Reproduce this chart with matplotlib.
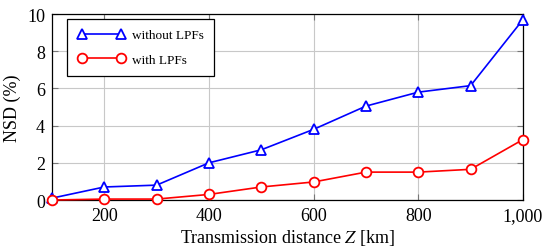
import numpy as np
import matplotlib.pyplot as plt

plt.rcParams['font.family'] = ['Liberation Serif', 'DejaVu Serif']
plt.rcParams['mathtext.fontset'] = 'stix'

distance = [100, 200, 300, 400, 500, 600, 700, 800, 900, 1000]
nsd_without = [0.1, 0.7, 0.8, 2.0, 2.7, 3.8, 5.05, 5.8, 6.15, 9.7]
nsd_with = [0.0, 0.05, 0.05, 0.3, 0.7, 0.97, 1.5, 1.5, 1.65, 3.25]
xticks = [200, 400, 600, 800, 1000]
xticklabels = ['200', '400', '600', '800', '1,000']
yticks = [0, 2, 4, 6, 8, 10]

fig = plt.figure(figsize=(5.47, 2.53), dpi=100)
ax = fig.add_axes([0.095, 0.2055, 0.861, 0.735])

ax.plot(distance, nsd_without, color='blue', marker='^', markersize=7.5,
        markerfacecolor='white', markeredgewidth=1.3, linewidth=1.2,
        label='without LPFs', clip_on=False, zorder=3)
ax.plot(distance, nsd_with, color='red', marker='o', markersize=7,
        markerfacecolor='white', markeredgewidth=1.3, linewidth=1.2,
        label='with LPFs', clip_on=False, zorder=3)

ax.set_xlim(100, 1000)
ax.set_ylim(0, 10)
ax.set_xticks(xticks)
ax.set_xticklabels(xticklabels)
ax.set_yticks(yticks)
ax.grid(True, color='#c8c8c8', linewidth=0.8)
ax.set_axisbelow(True)
ax.tick_params(direction='in', top=True, right=True, length=4, width=0.8,
               color='#777777', labelsize=13, pad=5)
for s in ax.spines.values():
    s.set_linewidth(0.9)

ax.set_xlabel('Transmission distance $Z$ [km]', fontsize=13, labelpad=2)
ax.set_ylabel('NSD (%)', fontsize=13, labelpad=4)

leg = ax.legend(loc='upper left', bbox_to_anchor=(0.032, 0.975), fontsize=9.5,
                fancybox=False, framealpha=1, edgecolor='black',
                borderpad=0.8, labelspacing=0.9, handlelength=3.6,
                handletextpad=0.5, borderaxespad=0, numpoints=2)
leg.get_frame().set_linewidth(0.9)

fig.savefig('out.png', dpi=100)
